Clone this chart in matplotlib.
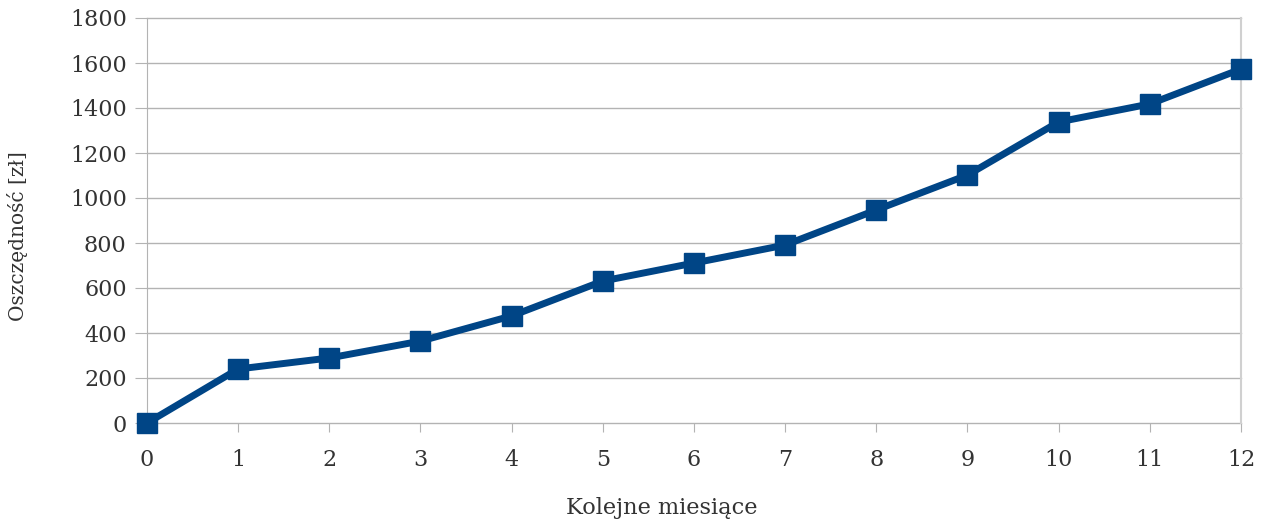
import matplotlib
matplotlib.use("Agg")
import matplotlib.pyplot as plt

months = [0, 1, 2, 3, 4, 5, 6, 7, 8, 9, 10, 11, 12]
savings = [0, 240, 289, 364, 476, 631, 711, 791, 947, 1102, 1338, 1418, 1573]
y_ticks = [0, 200, 400, 600, 800, 1000, 1200, 1400, 1600, 1800]
x_label = "Kolejne miesiące"
y_label = "Oszczędność [zł]"

plt.rcParams['font.family'] = ['DejaVu Serif']
text_color = '#333333'
grid_color = '#b3b3b3'

W, H = 1264, 525
fig = plt.figure(figsize=(W/100, H/100), dpi=100)
ax = fig.add_axes([147/W, 1 - 423/H, (1241-147)/W, (423-18)/H])

ax.plot(months, savings, color='#004586', linewidth=5, marker='s',
        markersize=14, zorder=3, clip_on=False)

ax.set_xlim(0, 12)
ax.set_ylim(0, 1800)
ax.set_xticks(months)
ax.set_yticks(y_ticks)
for yv in y_ticks:
    ax.axhline(yv, color=grid_color, linewidth=1, zorder=1, clip_on=False)

for s in ['top', 'bottom']:
    ax.spines[s].set_visible(False)
ax.spines['left'].set_color(grid_color)
ax.spines['right'].set_color('#d0d0d0')
ax.spines['right'].set_linewidth(1.5)

ax.tick_params(axis='y', length=8.6, color=grid_color, pad=6,
               labelsize=16, labelcolor=text_color)
ax.tick_params(axis='x', length=6.5, color=grid_color, pad=12,
               labelsize=16, labelcolor=text_color)

fig.text(662/W, 1 - 508/H, x_label, fontsize=16.2, color=text_color,
         ha='center', va='center')
fig.text(18/W, 1 - 236/H, y_label, fontsize=14.5, color=text_color,
         ha='center', va='center', rotation=90)

fig.savefig("out.png", dpi=100)
